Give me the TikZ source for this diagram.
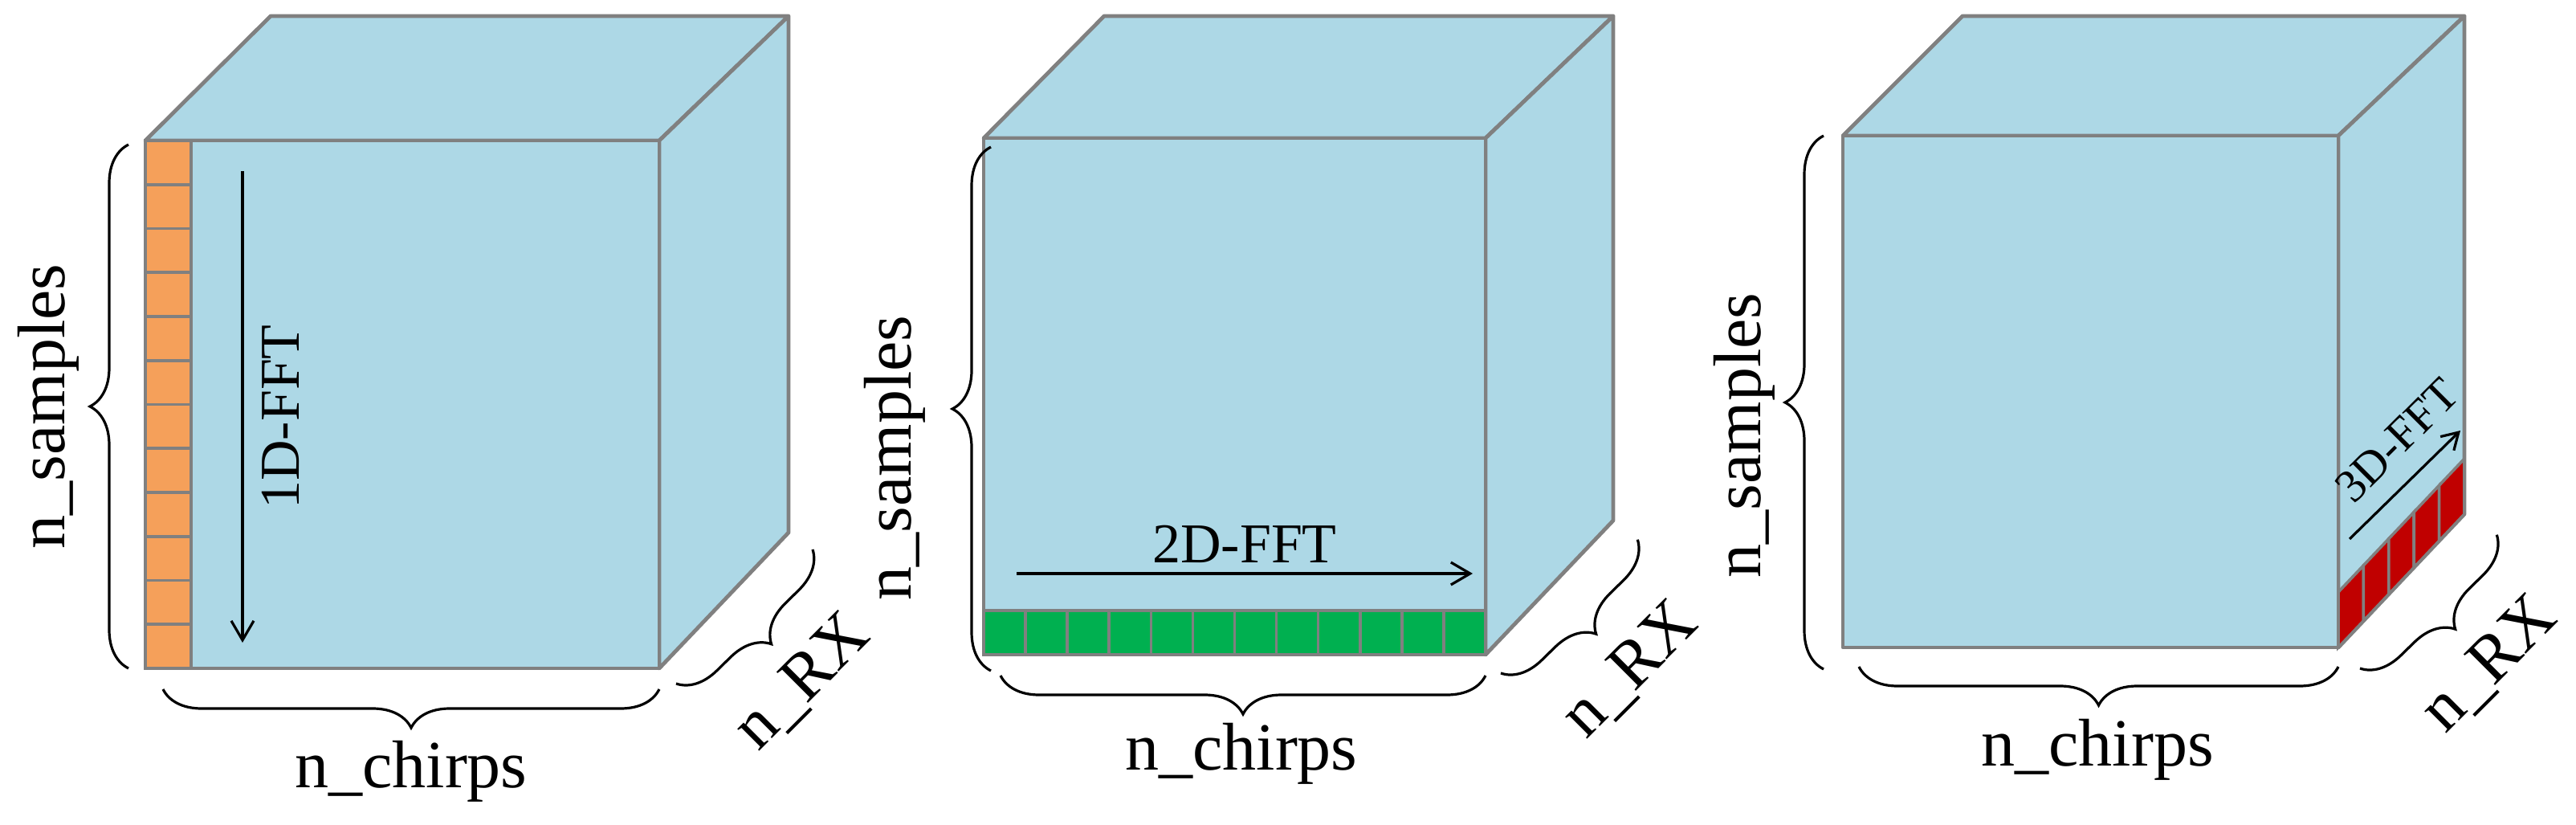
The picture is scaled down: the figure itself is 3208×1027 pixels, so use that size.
\documentclass[tikz,border=0pt]{standalone}
\usepackage{fontspec}
\setmainfont{Liberation Serif}
\usetikzlibrary{decorations.pathreplacing,arrows.meta}
\definecolor{cubefill}{HTML}{ADD8E6}
\definecolor{edgegray}{HTML}{808080}
\definecolor{orangecell}{HTML}{F5A05A}
\definecolor{greencell}{HTML}{00B050}
\definecolor{redcell}{HTML}{C00000}
\tikzset{
  face/.style={fill=cubefill,draw=edgegray,line width=2.4pt,line join=round},
  cellbox/.style={draw=edgegray,line width=1.8pt},
  bracestyle/.style={decorate,decoration={brace,mirror,amplitude=24pt},line width=1.6pt},
  lbl/.style={font=\fontsize{42}{50}\selectfont,inner sep=0pt},
  fftlbl/.style={font=\fontsize{35}{42}\selectfont,inner sep=0pt},
  fftarrow/.style={-{Straight Barb[length=12pt,width=14pt]},line width=1.6pt}
}
\begin{document}
\begin{tikzpicture}[x=0.5pt,y=-0.5pt]
\useasboundingbox (0,0) rectangle (3208,1027);
% ---------- cube 1
\draw[face] (181,175) -- (337,20) -- (982,20) -- (821,175) -- cycle;
\draw[face] (821,175) -- (982,20) -- (982,663) -- (821,832) -- cycle;
\draw[face] (238,175) rectangle (821,832);
\foreach \i in {0,...,11}{
  \draw[cellbox,fill=orangecell] (181,{175+\i*54.75}) rectangle (238,{175+(\i+1)*54.75});
}
\coordinate (a1s) at (302,213); \coordinate (a1e) at (302,800);
\draw[fftarrow] (a1s) -- (a1e);
\node[fftlbl,rotate=90] (t1) at (349,519) {1D-FFT};
\coordinate (b1a) at (160,180); \coordinate (b1b) at (160,832);
\draw[bracestyle] (b1a) -- (b1b);
\node[lbl,rotate=90] (s1) at (60,506) {n\_samples};
\coordinate (c1a) at (203,858); \coordinate (c1b) at (821,858);
\draw[bracestyle] (c1a) -- (c1b);
\node[lbl] (ch1) at (512,960) {n\_chirps};
\coordinate (r1a) at (842,851); \coordinate (r1b) at (1012,684);
\draw[bracestyle] (r1a) -- (r1b);
\node[lbl,rotate=45] (rx1) at (1000,850) {n\_RX};
% ---------- cube 2
\draw[face] (1225,172) -- (1375,20) -- (2009,20) -- (1850,172) -- cycle;
\draw[face] (1850,172) -- (2009,20) -- (2009,648) -- (1850,815) -- cycle;
\draw[face] (1225,172) rectangle (1850,815);
\foreach \i in {0,...,11}{
  \draw[cellbox,fill=greencell] ({1225+\i*52.083},760) rectangle ({1225+(\i+1)*52.083},815);
}
\coordinate (a2s) at (1266,714); \coordinate (a2e) at (1834,714);
\draw[fftarrow] (a2s) -- (a2e);
\node[fftlbl] (t2) at (1550,677) {2D-FFT};
\coordinate (b2a) at (1234,183); \coordinate (b2b) at (1234,835);
\draw[bracestyle] (b2a) -- (b2b);
\node[lbl,rotate=90] (s2) at (1114,570) {n\_samples};
\coordinate (c2a) at (1246,841); \coordinate (c2b) at (1850,841);
\draw[bracestyle] (c2a) -- (c2b);
\node[lbl] (ch2) at (1546,938) {n\_chirps};
\coordinate (r2a) at (1869,838); \coordinate (r2b) at (2040,671);
\draw[bracestyle] (r2a) -- (r2b);
\node[lbl,rotate=45] (rx2) at (2031,835) {n\_RX};
% ---------- cube 3
\draw[face] (2295,169) -- (2444,20) -- (3069,20) -- (2912,169) -- cycle;
\draw[face] (2912,169) -- (3069,20) -- (3069,640) -- (2912,806) -- cycle;
\draw[face] (2295,169) rectangle (2912,806);
\foreach \i in {0,...,4}{
  \draw[cellbox,fill=redcell]
    ({2912+\i*31.4},{806-\i*33.2}) -- ({2912+(\i+1)*31.4},{806-(\i+1)*33.2})
    -- ({2912+(\i+1)*31.4},{737-(\i+1)*33.2}) -- ({2912+\i*31.4},{737-\i*33.2}) -- cycle;
}
\coordinate (a3s) at (2926,671); \coordinate (a3e) at (3064,536);
\draw[fftarrow,-{Straight Barb[length=10pt,width=12pt]}] (a3s) -- (a3e);
\node[fftlbl,rotate=45,font=\fontsize{29}{34}\selectfont] (t3) at (2985,548) {3D-FFT};
\coordinate (b3a) at (2271,169); \coordinate (b3b) at (2271,833);
\draw[bracestyle] (b3a) -- (b3b);
\node[lbl,rotate=90] (s3) at (2172,542) {n\_samples};
\coordinate (c3a) at (2315,830); \coordinate (c3b) at (2912,830);
\draw[bracestyle] (c3a) -- (c3b);
\node[lbl] (ch3) at (2612,933) {n\_chirps};
\coordinate (r3a) at (2939,832); \coordinate (r3b) at (3110,665);
\draw[bracestyle] (r3a) -- (r3b);
\node[lbl,rotate=45] (rx3) at (3101,828) {n\_RX};
\end{tikzpicture}
\end{document}
